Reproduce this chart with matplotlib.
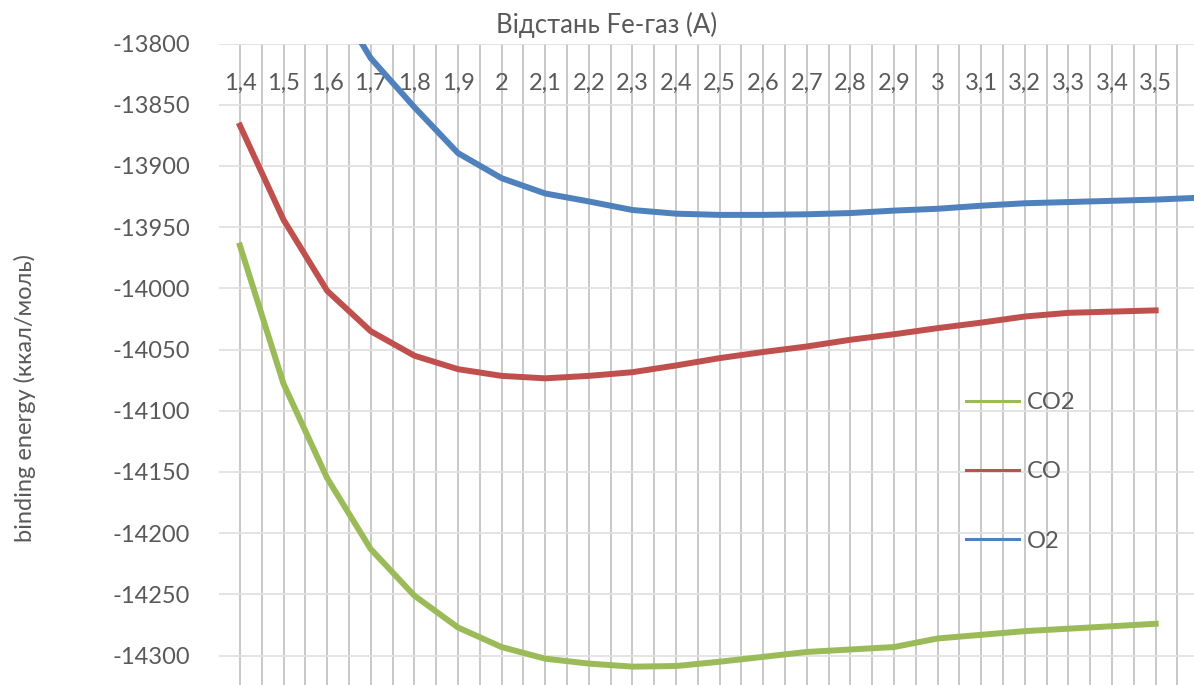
import numpy as np
import matplotlib.pyplot as plt
from matplotlib.ticker import MultipleLocator

nan = np.nan

# distance Fe-gas, category labels (3,6 lies just past the right edge)
dist = ['1,4', '1,5', '1,6', '1,7', '1,8', '1,9', '2', '2,1', '2,2', '2,3', '2,4',
        '2,5', '2,6', '2,7', '2,8', '2,9', '3', '3,1', '3,2', '3,3', '3,4', '3,5', '3,6']

co2 = [-13965, -14078, -14155, -14213, -14251, -14277, -14293, -14302.5, -14306.5,
       -14309, -14308.5, -14305, -14301, -14297, -14295, -14293, -14286, -14283,
       -14280, -14278, -14276, -14274, nan]
co = [-13867, -13944, -14002, -14035, -14055, -14066, -14071.5, -14073.5, -14071.5,
      -14068.5, -14063, -14057, -14052, -14047.5, -14042, -14037.5, -14032.5,
      -14028, -14023, -14020, -14019, -14018, nan]
o2 = [nan, nan, -13753, -13812, -13852, -13889.5, -13910, -13922.5, -13929,
      -13936, -13939, -13940, -13940, -13939.5, -13938.5, -13936.5, -13935,
      -13932.5, -13930.5, -13929.5, -13928.5, -13927.5, -13926]

txt = '#595959'
plt.rcParams['font.family'] = ['Lato', 'DejaVu Sans']
plt.rcParams['axes.unicode_minus'] = False

fig = plt.figure(figsize=(11.94, 6.85), dpi=100)
ax = fig.add_axes([219/1194, 0.0, 1 - 219/1194, 1 - 43.5/685])

x = np.arange(len(dist))
ax.plot(x, co2, color='#9BBB59', lw=4.3, label='CO2', solid_joinstyle='round')
ax.plot(x, co, color='#C0504D', lw=4.3, label='CO', solid_joinstyle='round')
ax.plot(x, o2, color='#4F81BD', lw=4.3, label='O2', solid_joinstyle='round')

ax.set_xlim(-0.48, 21.88)
ax.set_ylim(-14324, -13800)
ax.yaxis.set_major_locator(MultipleLocator(50))
# only the labels that fall inside the visible plot
ax.set_xticks(x[:-1], dist[:-1])
ax.xaxis.set_minor_locator(MultipleLocator(0.5))
ax.xaxis.set_ticks_position('top')
ax.tick_params(axis='x', which='both', length=0, pad=-36, labelsize=17, labelcolor=txt)
ax.tick_params(axis='y', length=0, pad=21, labelsize=17, labelcolor=txt)

ax.grid(axis='x', which='both', color='#c4c4c4', lw=1.3)
ax.grid(axis='y', which='major', color='#e2e2e2', lw=1.3)
ax.set_axisbelow(True)
for s in ax.spines.values():
    s.set_visible(False)

fig.text(607/1194, 1 - 25/685, 'Відстань Fe-газ (A)', ha='center', va='center',
         fontsize=18.5, color=txt)
fig.text(25/1194, 1 - 398/685, 'binding energy (ккал/моль)', rotation=90,
         ha='center', va='center', fontsize=17, color=txt)

leg = ax.legend(loc='center left', bbox_to_anchor=(966/1194, 1 - 471.7/685),
                bbox_transform=fig.transFigure, frameon=False, fontsize=17,
                handlelength=2.25, handletextpad=0.34, labelspacing=2.05,
                borderpad=0, borderaxespad=0)
for t in leg.get_texts():
    t.set_color(txt)
for h in leg.get_lines():
    h.set_linewidth(2.2)

fig.savefig('out.png', dpi=100)
